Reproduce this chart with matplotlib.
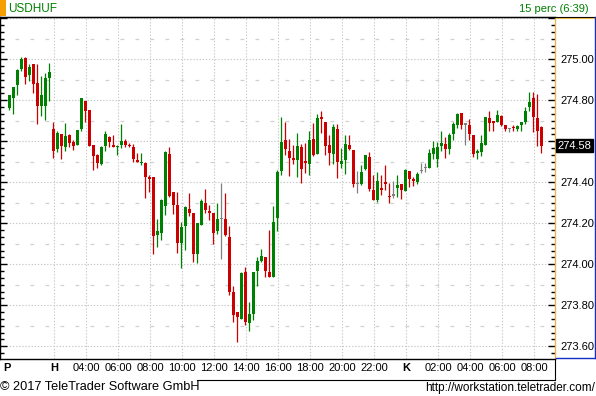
import numpy as np
import matplotlib
matplotlib.use("Agg")
import matplotlib.pyplot as plt
from matplotlib.lines import Line2D
from matplotlib.patches import Rectangle
from matplotlib.ticker import MultipleLocator, FuncFormatter
import matplotlib.transforms as mtransforms

plt.rcParams['font.family'] = ['Liberation Sans', 'DejaVu Sans']

# USDHUF, 15 minute candles
opens = [
    274.764, 274.813, 274.876, 274.953, 275.006, 274.925, 274.977, 274.884, 274.774, 274.774,
    274.910, 274.660, 274.564, 274.636, 274.574, 274.631, 274.597, 274.583, 274.661, 274.797,
    274.753, 274.582, 274.533, 274.489, 274.577, 274.621, 274.582, 274.576, 274.583, 274.601,
    274.583, 274.572, 274.509, 274.496, 274.496, 274.427, 274.426, 274.143, 274.154, 274.286,
    274.538, 274.353, 274.289, 274.105, 274.188, 274.270, 274.252, 274.052, 274.193, 274.299,
    274.261, 274.250, 274.164, 274.224, 274.221, 274.133, 273.865, 273.767, 273.735, 273.962,
    273.715, 273.759, 273.967, 274.016, 274.036, 273.962, 273.940, 274.226, 274.457, 274.606,
    274.553, 274.519, 274.509, 274.572, 274.504, 274.489, 274.611, 274.538, 274.720, 274.696,
    274.582, 274.538, 274.660, 274.489, 274.509, 274.580, 274.558, 274.395, 274.392, 274.465,
    274.523, 274.362, 274.314, 274.374, 274.403, 274.335, 274.338, 274.372, 274.392, 274.358,
    274.455, 274.416, 274.403, 274.459, 274.471, 274.468, 274.540, 274.514, 274.577, 274.587,
    274.561, 274.637, 274.681, 274.738, 274.684, 274.680, 274.631, 274.543, 274.548, 274.582,
    274.714, 274.698, 274.696, 274.722, 274.678, 274.661, 274.670, 274.661, 274.681, 274.694,
    274.769, 274.811, 274.714, 274.670,
]
highs = [
    274.824, 274.865, 274.953, 275.013, 275.011, 274.977, 274.977, 274.977, 274.919, 274.933,
    274.982, 274.696, 274.650, 274.636, 274.689, 274.636, 274.606, 274.655, 274.811, 274.797,
    274.753, 274.582, 274.538, 274.577, 274.652, 274.626, 274.631, 274.582, 274.686, 274.611,
    274.592, 274.587, 274.543, 274.543, 274.499, 274.437, 274.426, 274.221, 274.319, 274.553,
    274.572, 274.353, 274.351, 274.206, 274.284, 274.348, 274.252, 274.201, 274.317, 274.367,
    274.288, 274.250, 274.299, 274.397, 274.348, 274.185, 273.894, 273.767, 273.962, 273.987,
    273.815, 273.962, 274.037, 274.075, 274.036, 274.167, 274.284, 274.460, 274.720, 274.694,
    274.611, 274.582, 274.641, 274.585, 274.593, 274.650, 274.689, 274.733, 274.748, 274.696,
    274.631, 274.686, 274.684, 274.567, 274.631, 274.631, 274.558, 274.455, 274.484, 274.533,
    274.548, 274.436, 274.450, 274.436, 274.484, 274.395, 274.406, 274.436, 274.392, 274.465,
    274.455, 274.427, 274.449, 274.494, 274.496, 274.561, 274.600, 274.598, 274.650, 274.622,
    274.639, 274.696, 274.740, 274.738, 274.688, 274.710, 274.631, 274.562, 274.631, 274.720,
    274.749, 274.698, 274.753, 274.730, 274.678, 274.665, 274.678, 274.680, 274.696, 274.769,
    274.839, 274.840, 274.831, 274.675,
]
lows = [
    274.753, 274.735, 274.827, 274.944, 274.881, 274.896, 274.837, 274.686, 274.725, 274.705,
    274.798, 274.520, 274.549, 274.515, 274.554, 274.574, 274.559, 274.583, 274.652, 274.696,
    274.579, 274.461, 274.471, 274.484, 274.554, 274.574, 274.574, 274.535, 274.569, 274.574,
    274.574, 274.500, 274.500, 274.483, 274.325, 274.354, 274.052, 274.086, 274.119, 274.242,
    274.327, 274.245, 274.057, 273.983, 274.070, 274.237, 274.011, 274.008, 274.193, 274.250,
    274.218, 274.100, 274.149, 274.027, 274.140, 273.852, 273.720, 273.621, 273.735, 273.705,
    273.676, 273.728, 273.896, 274.010, 273.940, 273.940, 273.940, 274.162, 274.436, 274.533,
    274.431, 274.489, 274.427, 274.398, 274.445, 274.436, 274.528, 274.538, 274.641, 274.533,
    274.484, 274.489, 274.421, 274.470, 274.440, 274.558, 274.377, 274.349, 274.387, 274.460,
    274.358, 274.314, 274.304, 274.338, 274.362, 274.300, 274.325, 274.328, 274.319, 274.358,
    274.376, 274.384, 274.393, 274.444, 274.452, 274.468, 274.514, 274.476, 274.554, 274.520,
    274.538, 274.608, 274.666, 274.661, 274.582, 274.608, 274.522, 274.515, 274.528, 274.582,
    274.652, 274.650, 274.696, 274.676, 274.652, 274.647, 274.650, 274.652, 274.650, 274.686,
    274.748, 274.644, 274.579, 274.544,
]
closes = [
    274.824, 274.865, 274.948, 275.001, 274.915, 274.962, 274.881, 274.774, 274.826, 274.909,
    274.938, 274.554, 274.641, 274.579, 274.626, 274.593, 274.579, 274.655, 274.811, 274.749,
    274.579, 274.528, 274.496, 274.572, 274.636, 274.597, 274.577, 274.579, 274.601, 274.583,
    274.577, 274.515, 274.500, 274.499, 274.427, 274.416, 274.140, 274.162, 274.314, 274.549,
    274.333, 274.289, 274.105, 274.182, 274.281, 274.252, 274.052, 274.201, 274.309, 274.266,
    274.252, 274.153, 274.222, 274.224, 274.143, 273.865, 273.754, 273.744, 273.958, 273.719,
    273.758, 273.962, 274.016, 274.040, 273.969, 273.940, 274.206, 274.452, 274.597, 274.562,
    274.519, 274.514, 274.577, 274.465, 274.494, 274.606, 274.535, 274.714, 274.709, 274.577,
    274.541, 274.670, 274.499, 274.504, 274.587, 274.562, 274.392, 274.395, 274.450, 274.533,
    274.367, 274.314, 274.406, 274.361, 274.392, 274.332, 274.338, 274.387, 274.362, 274.460,
    274.415, 274.408, 274.439, 274.459, 274.471, 274.541, 274.567, 274.574, 274.592, 274.564,
    274.632, 274.684, 274.735, 274.681, 274.684, 274.636, 274.538, 274.553, 274.592, 274.717,
    274.691, 274.689, 274.727, 274.681, 274.660, 274.661, 274.663, 274.673, 274.693, 274.748,
    274.792, 274.717, 274.652, 274.579,
]

time_labels = ['H', '04:00', '06:00', '08:00', '10:00', '12:00', '14:00', '16:00',
               '18:00', '20:00', '22:00', 'K', '02:00', '04:00', '06:00', '08:00']
day_labels = ['P', 'H', 'K']

W, H = 596, 396
fig = plt.figure(figsize=(W / 100, H / 100), dpi=100)
fig.patch.set_facecolor('white')

def fx(px):
    return px / W

def fy(py):
    return 1 - py / H

ax = fig.add_axes([0, fy(359), fx(555), fy(17) - fy(359)])

o = np.array(opens)
hi = np.array(highs)
lo = np.array(lows)
c = np.array(closes)
idx = np.arange(len(o))

colors = np.where(c > o, '#008000', np.where(c < o, '#cc0000', '#808080'))

ax.vlines(idx, lo, hi, colors=colors, linewidth=0.9, zorder=3)
body_lo = np.minimum(o, c)
body_h = np.maximum(np.abs(c - o), 0.006)
ax.bar(idx, body_h, bottom=body_lo - np.where(np.abs(c - o) < 0.006, 0.003, 0), width=0.78,
       color=colors, linewidth=0, zorder=4)

ax.set_xlim(-2.325, 136.425)
ax.set_ylim(273.538, 275.206)

# x ticks: grid every 2 hours, plus the friday marker at the left edge
grid_x = 11.25 + 8 * np.arange(len(time_labels))
xt = np.concatenate([[-1.6], grid_x])
ax.set_xticks(xt)
ax.set_xticklabels(['P'] + time_labels)
ax.tick_params(axis='x', length=0, pad=3, labelsize=8, colors='black')
for lab in ax.get_xticklabels():
    if lab.get_text() in day_labels:
        lab.set_fontweight('bold')
ax.xaxis.grid(True, color='#c8c8c8', linestyle=(0, (1.2, 1.6)), linewidth=0.8)
ax.get_xgridlines()[0].set_visible(False)
ax.get_xticklabels()[0].set_horizontalalignment('left')

# y ticks on the right
last = closes[-1]

def price_fmt(v, p):
    if abs(v - last) < 0.03 or v > 275.1:
        return ''
    return f'{v:.2f}'

ax.yaxis.set_major_locator(MultipleLocator(0.2))
ax.yaxis.set_minor_locator(MultipleLocator(0.2 / 6))
ax.yaxis.set_major_formatter(FuncFormatter(price_fmt))
ax.tick_params(axis='y', which='both', direction='in', left=True, right=True,
               labelleft=False, labelright=True, colors='black', labelsize=8, pad=4)
ax.tick_params(axis='y', which='major', length=5, width=1)
ax.tick_params(axis='y', which='minor', length=3, width=1)
ax.yaxis.grid(True, which='major', color='#c8c8c8', linestyle=(0, (1.2, 1.6)), linewidth=0.8)
for v in np.arange(273.7, 275.21, 0.2):
    ax.axhline(v, color='#d0d0d0', linestyle=(0, (3, 9)), linewidth=0.9, zorder=0)

for s in ['left', 'top', 'bottom']:
    ax.spines[s].set_color('black')
    ax.spines[s].set_linewidth(1)
ax.spines['right'].set_color('#e8b84a')
ax.spines['right'].set_linewidth(1)

# last price marker
trans = mtransforms.blended_transform_factory(ax.transAxes, ax.transData)
ax.text(1.004, last, f'{last:.2f}', transform=trans, ha='left', va='center', fontsize=8,
        color='white', zorder=10, clip_on=False,
        bbox=dict(boxstyle='square,pad=0.15', fc='black', ec='black'))

# header
fig.add_artist(Rectangle((0, fy(16)), fx(6), fy(0) - fy(16), transform=fig.transFigure,
                         facecolor='#f5a000', edgecolor='none'))
fig.text(fx(8), fy(8.5), 'USDHUF', color='#008000', fontsize=8.5, ha='left', va='center')
fig.text(fx(589), fy(8.5), '15 perc (6:39)', color='#008000', fontsize=8, ha='right', va='center')
fig.add_artist(Line2D([0, 1], [fy(16.5), fy(16.5)], transform=fig.transFigure, color='black', lw=0.8))

# right panel frame
fig.add_artist(Line2D([fx(555.5), fx(594.5)], [fy(17.5), fy(17.5)], transform=fig.transFigure,
                      color='#e8b84a', lw=0.8))
fig.add_artist(Line2D([fx(594.5), fx(594.5)], [fy(17), fy(357.5)], transform=fig.transFigure,
                      color='#1030c0', lw=1.0))
fig.add_artist(Line2D([fx(555.5), fx(594.5)], [fy(357.5), fy(357.5)], transform=fig.transFigure,
                      color='#1030c0', lw=1.0))

# time axis band
fig.add_artist(Line2D([fx(554.5), fx(554.5)], [fy(359), fy(380)], transform=fig.transFigure,
                      color='black', lw=0.8))
fig.add_artist(Line2D([fx(197), fx(554.5)], [fy(380), fy(380)], transform=fig.transFigure,
                      color='black', lw=0.8))

# footer
fig.text(fx(0), fy(387), '\u00a9 2017 TeleTrader Software GmbH', fontsize=9.2, ha='left', va='center')
fig.text(fx(595), fy(388), 'http://workstation.teletrader.com/', fontsize=8.5, ha='right', va='center')

fig.savefig('out.png', dpi=100)
